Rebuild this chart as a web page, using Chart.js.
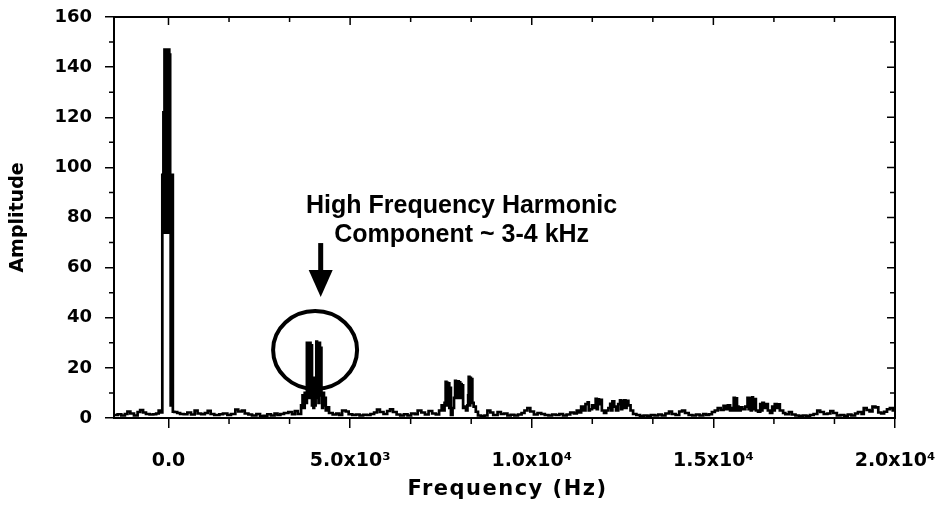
<!DOCTYPE html>
<html>
<head>
<meta charset="utf-8">
<script src="https://cdn.jsdelivr.net/npm/chart.js@4.4.1/dist/chart.umd.min.js"></script>
<style>
  html, body { margin: 0; padding: 0; background: #fff; }
  #wrap { width: 940px; height: 508px; }
</style>
</head>
<body>
<div id="wrap"><canvas id="fftChart"></canvas></div>
<script>
// spectrum, [frequency Hz, amplitude], split by region
var noiseBelowZero = [
  [-1500, 1.2], [-1400, 1.5], [-1300, 1.0], [-1200, 1.6], [-1130, 2.6], [-1050, 1.8],
  [-950, 1.0], [-850, 2.4], [-780, 3.2], [-700, 2.2], [-620, 1.6], [-520, 1.4],
  [-420, 1.5], [-340, 1.8], [-270, 3.0], [-210, 2.2]
];
var dcPeak = [
  [-170, 97], [-140, 122], [-110, 147], [-98, 74], [-86, 147], [-74, 76], [-62, 147],
  [-50, 74], [-38, 146], [-26, 75], [-14, 147], [-2, 74], [10, 147], [22, 76],
  [34, 145], [46, 74], [60, 5], [75, 97], [120, 2.5]
];
var noiseLow = [
  [160, 2.4], [240, 2.0], [320, 1.6], [420, 1.5], [520, 2.2], [620, 1.4], [720, 3.0],
  [800, 1.8], [900, 1.5], [1000, 2.0], [1080, 2.9], [1160, 1.6], [1260, 1.2], [1400, 1.5],
  [1500, 1.8], [1620, 1.2], [1720, 1.6], [1840, 3.4], [1920, 2.6], [2020, 3.0], [2100, 1.8],
  [2200, 1.4], [2300, 1.0], [2420, 1.6], [2520, 0.8], [2620, 0.9], [2720, 1.5], [2820, 1.0],
  [2920, 1.8], [3000, 1.2], [3080, 1.6], [3180, 2.0], [3300, 2.4], [3400, 1.5], [3480, 2.8],
  [3560, 1.6]
];
var harmonic4k = [
  [3650, 5], [3690, 9], [3720, 4], [3750, 10], [3780, 6], [3810, 30], [3830, 9],
  [3850, 29.5], [3870, 8], [3890, 30], [3910, 12], [3930, 29], [3950, 5], [3970, 14],
  [3990, 4], [4010, 16], [4030, 5], [4050, 12], [4070, 30.5], [4090, 8], [4110, 30],
  [4130, 6], [4150, 30], [4170, 9], [4190, 28], [4210, 10], [4230, 4], [4250, 10],
  [4280, 5], [4300, 8], [4330, 3], [4360, 4.2]
];
var noiseMid = [
  [4420, 2.0], [4520, 1.4], [4620, 1.8], [4700, 1.2], [4780, 3.0], [4880, 2.6], [4960, 1.5],
  [5060, 1.2], [5160, 1.4], [5260, 1.0], [5360, 1.3], [5460, 1.2], [5560, 1.6], [5660, 2.2],
  [5740, 3.4], [5820, 2.4], [5920, 1.6], [6020, 2.8], [6100, 3.5], [6180, 2.4], [6280, 1.4],
  [6380, 1.0], [6480, 1.5], [6580, 1.0], [6680, 1.8], [6780, 1.5], [6860, 3.0], [6960, 2.2],
  [7060, 1.4], [7160, 2.8], [7260, 1.8], [7360, 1.4]
];
var harmonic8k = [
  [7450, 3.0], [7520, 5.0], [7560, 3.0], [7600, 6], [7630, 14.4], [7650, 5], [7670, 14],
  [7690, 6], [7710, 13.8], [7730, 4], [7750, 12], [7775, 1.2], [7820, 4], [7860, 8],
  [7890, 14.8], [7910, 9], [7930, 14.5], [7950, 8], [7970, 14.6], [7990, 8], [8010, 14.2],
  [8030, 9], [8050, 13.5], [8070, 8], [8090, 13], [8110, 4], [8150, 4.5], [8190, 3],
  [8230, 5], [8250, 9], [8265, 16.4], [8285, 5], [8305, 16], [8325, 6], [8345, 15.5],
  [8365, 6], [8400, 4.5], [8460, 2.5], [8520, 1.0]
];
var noiseHigh = [
  [8600, 0.8], [8700, 1.0], [8780, 3.0], [8860, 2.2], [8940, 1.2], [9060, 2.4], [9150, 1.6],
  [9240, 1.8], [9330, 1.0], [9420, 1.3], [9520, 1.0], [9620, 1.4], [9720, 2.0], [9800, 3.0],
  [9880, 4.0], [9960, 2.6], [10060, 1.4], [10160, 2.0], [10260, 1.6], [10360, 1.2],
  [10460, 1.0], [10560, 1.4], [10660, 1.2], [10760, 1.6], [10860, 1.0], [10960, 1.4],
  [11060, 2.2], [11160, 1.8], [11240, 3.0]
];
var harmonic12k = [
  [11300, 2.2], [11360, 4.5], [11420, 3.0], [11480, 5.5], [11540, 6.2], [11570, 3.0],
  [11600, 3.5], [11660, 5.0], [11720, 4.0], [11760, 7.6], [11790, 3.5], [11820, 7.4],
  [11850, 5.5], [11880, 7.2], [11930, 3.0], [11990, 2.0], [12050, 3.0], [12110, 4.0],
  [12160, 5.6], [12190, 3.0], [12220, 6.6], [12270, 4.5], [12320, 3.0], [12380, 5.5],
  [12430, 7.0], [12460, 3.5], [12490, 6.8], [12520, 4.0], [12550, 7.0], [12580, 4.0],
  [12610, 6.8], [12660, 5.0], [12720, 3.0], [12790, 1.6]
];
var noiseUpper = [
  [12880, 1.2], [12980, 0.8], [13080, 1.0], [13180, 0.9], [13280, 1.2], [13380, 1.0],
  [13480, 1.4], [13580, 1.0], [13680, 1.8], [13780, 2.6], [13860, 1.6], [13960, 1.2],
  [14060, 2.6], [14140, 3.0], [14220, 2.0], [14320, 1.2], [14420, 1.0], [14520, 1.4],
  [14620, 1.0], [14720, 1.6], [14800, 1.2], [14880, 1.5], [14960, 2.4], [15040, 3.0]
];
var harmonic16k = [
  [15120, 4.0], [15200, 3.2], [15280, 4.8], [15340, 3.5], [15400, 5.0], [15460, 3.0],
  [15520, 4.0], [15560, 8.0], [15590, 3.0], [15620, 7.8], [15650, 4.5], [15690, 3.0],
  [15750, 4.2], [15800, 3.5], [15880, 4.5], [15940, 8.0], [15970, 3.5], [16000, 7.8],
  [16030, 3.0], [16060, 8.2], [16090, 3.5], [16120, 7.5], [16170, 3.0], [16230, 2.5],
  [16290, 5.5], [16320, 3.0], [16350, 6.0], [16390, 4.0], [16440, 5.5], [16500, 3.0],
  [16560, 2.0], [16620, 4.5], [16660, 3.0], [16690, 5.5], [16740, 4.0], [16790, 5.4],
  [16830, 3.0], [16920, 2.0]
];
var noiseTop = [
  [16980, 1.5], [17080, 2.4], [17160, 1.4], [17260, 1.0], [17360, 0.8], [17460, 1.0],
  [17560, 0.8], [17660, 1.2], [17760, 1.6], [17860, 3.0], [17940, 2.4], [18040, 1.6],
  [18140, 1.8], [18220, 2.8], [18300, 2.0], [18400, 1.0], [18500, 1.2], [18600, 0.9],
  [18700, 1.4], [18800, 1.0], [18900, 1.8], [18980, 2.4], [19080, 1.6], [19140, 4.0],
  [19220, 3.2], [19300, 2.6], [19380, 4.5], [19460, 4.2], [19540, 2.2], [19620, 1.8],
  [19700, 2.5], [19780, 3.5], [19860, 4.0], [19940, 3.0], [20000, 3.0]
];

// axes
var xMajor = [0, 5000, 10000, 15000, 20000];
var xLabels = ["0.0", "5.0x10\u00B3", "1.0x10\u2074", "1.5x10\u2074", "2.0x10\u2074"];
var xMinor = [1666.7, 3333.3, 6666.7, 8333.3, 11666.7, 13333.3, 16666.7, 18333.3];
var yMajor = [0, 20, 40, 60, 80, 100, 120, 140, 160];
var yMinor = [10, 30, 50, 70, 90, 110, 130, 150];
var xTitle = "Frequency (Hz)";

// annotation anchors (data units)
var noteLines = ["High Frequency Harmonic", "Component ~ 3-4 kHz"];
var noteHz = 8070;
var noteAmp = [81.8, 70.2];
var arrowHz = 4190;
var arrowAmp = [69.8, 48.3];
var circleHz = 4036;
var circleAmp = 27.1;

var spectrum = [].concat(noiseBelowZero, dcPeak, noiseLow, harmonic4k, noiseMid,
  harmonic8k, noiseHigh, harmonic12k, noiseUpper, harmonic16k, noiseTop);

var points = [];
for (var i = 0; i < spectrum.length; i++) {
  points.push({ x: spectrum[i][0], y: spectrum[i][1] });
}

var tickFont = { family: "DejaVu Sans", size: 18, weight: "bold" };

// box frame, inward ticks on top/right, minor ticks everywhere, x title
var frameTicks = {
  id: "frameTicks",
  afterDraw: function (chart) {
    var ctx = chart.ctx;
    var a = chart.chartArea;
    var xs = chart.scales.x;
    var ys = chart.scales.y;
    var i, p;
    ctx.save();
    ctx.strokeStyle = "#000";
    ctx.lineWidth = 2;
    ctx.strokeRect(a.left, a.top, a.right - a.left, a.bottom - a.top);
    ctx.lineWidth = 1.5;
    ctx.beginPath();
    for (i = 0; i < xMajor.length; i++) {
      p = xs.getPixelForValue(xMajor[i]);
      ctx.moveTo(p, a.top);
      ctx.lineTo(p, a.top + 8);
    }
    for (i = 0; i < xMinor.length; i++) {
      p = xs.getPixelForValue(xMinor[i]);
      ctx.moveTo(p, a.top);
      ctx.lineTo(p, a.top + 5);
      ctx.moveTo(p, a.bottom);
      ctx.lineTo(p, a.bottom + 6);
    }
    for (i = 0; i < yMajor.length; i++) {
      p = ys.getPixelForValue(yMajor[i]);
      ctx.moveTo(a.right, p);
      ctx.lineTo(a.right - 8, p);
    }
    for (i = 0; i < yMinor.length; i++) {
      p = ys.getPixelForValue(yMinor[i]);
      ctx.moveTo(a.right, p);
      ctx.lineTo(a.right - 5, p);
      ctx.moveTo(a.left, p);
      ctx.lineTo(a.left - 5, p);
    }
    ctx.stroke();

    ctx.fillStyle = "#000";
    ctx.font = "bold 21px 'DejaVu Sans'";
    ctx.letterSpacing = "1.5px";
    ctx.textAlign = "center";
    ctx.textBaseline = "middle";
    ctx.fillText(xTitle, (a.left + a.right) / 2 + 3, 490);
    ctx.restore();
  }
};

var harmonicNote = {
  id: "harmonicNote",
  afterDraw: function (chart) {
    var ctx = chart.ctx;
    var xs = chart.scales.x;
    var ys = chart.scales.y;
    ctx.save();
    ctx.fillStyle = "#000";
    ctx.strokeStyle = "#000";
    ctx.font = "bold 25px 'Liberation Sans', Arial, sans-serif";
    ctx.textAlign = "center";
    ctx.textBaseline = "alphabetic";
    var tx = xs.getPixelForValue(noteHz);
    for (var i = 0; i < noteLines.length; i++) {
      ctx.fillText(noteLines[i], tx, ys.getPixelForValue(noteAmp[i]));
    }

    // arrow
    var ax = xs.getPixelForValue(arrowHz);
    var top = ys.getPixelForValue(arrowAmp[0]);
    var tip = ys.getPixelForValue(arrowAmp[1]);
    ctx.lineWidth = 5;
    ctx.beginPath();
    ctx.moveTo(ax, top);
    ctx.lineTo(ax, tip - 20);
    ctx.stroke();
    ctx.beginPath();
    ctx.moveTo(ax - 12, tip - 27);
    ctx.lineTo(ax + 12, tip - 27);
    ctx.lineTo(ax, tip);
    ctx.closePath();
    ctx.fill();

    // circle round the 3-4 kHz peaks
    ctx.lineWidth = 4;
    ctx.beginPath();
    ctx.ellipse(xs.getPixelForValue(circleHz), ys.getPixelForValue(circleAmp), 42, 39, 0, 0, Math.PI * 2);
    ctx.stroke();
    ctx.restore();
  }
};

var ctx = document.getElementById("fftChart").getContext("2d");
var chart = new Chart(ctx, {
  type: "line",
  data: {
    datasets: [
      {
        label: "Amplitude",
        data: points,
        borderColor: "#000",
        borderWidth: 2.7,
        pointRadius: 0,
        stepped: true,
        fill: false,
        tension: 0
      }
    ]
  },
  options: {
    responsive: true,
    maintainAspectRatio: false,
    animation: false,
    layout: { autoPadding: false, padding: { left: 0, right: 45, top: 17, bottom: 0 } },
    plugins: {
      legend: { display: false },
      tooltip: { enabled: false }
    },
    scales: {
      x: {
        type: "linear",
        min: -1500,
        max: 20000,
        afterBuildTicks: function (scale) {
          scale.ticks = xMajor.map(function (v) { return { value: v }; });
        },
        afterFit: function (scale) {
          scale.height = 90;
          scale.paddingLeft = 0;
          scale.paddingRight = 0;
        },
        ticks: {
          autoSkip: false,
          maxRotation: 0,
          padding: 22,
          color: "#000",
          font: { family: "DejaVu Sans", size: 19, weight: "bold" },
          callback: function (value, index) { return xLabels[index]; }
        },
        grid: { drawOnChartArea: false, color: "#000", lineWidth: 1.5, tickLength: 10 },
        border: { color: "#000", width: 2 }
      },
      y: {
        min: 0,
        max: 160,
        afterFit: function (scale) {
          scale.width = 114;
          scale.paddingTop = 0;
          scale.paddingBottom = 0;
        },
        ticks: { stepSize: 20, padding: 13, color: "#000", font: tickFont },
        grid: { drawOnChartArea: false, color: "#000", lineWidth: 1.5, tickLength: 9 },
        border: { color: "#000", width: 2 },
        title: {
          display: true,
          text: "Amplitude",
          color: "#000",
          font: { family: "DejaVu Sans", size: 19, weight: "bold" },
          padding: { top: 7, bottom: 10 }
        }
      }
    }
  },
  plugins: [frameTicks, harmonicNote]
});
</script>
</body>
</html>
